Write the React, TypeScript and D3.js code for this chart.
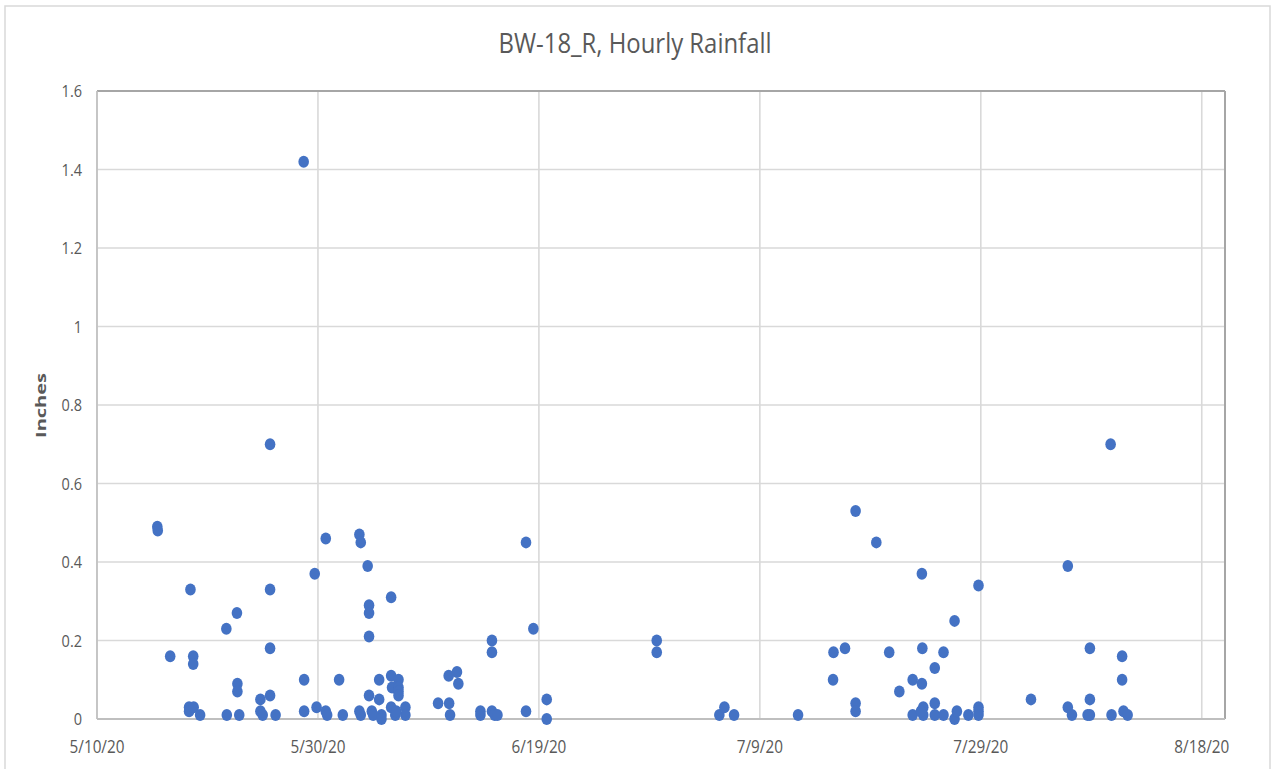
import React from "react";
import * as d3 from "d3";

const chartTitle = "BW-18_R, Hourly Rainfall";
const yAxisTitle = "Inches";

const times: string[] = [
  "5/15/20 11:00", "5/15/20 12:00", "5/16/20 15:00", "5/18/20 08:00", "5/18/20 08:00",
  "5/18/20 11:00", "5/18/20 17:00", "5/18/20 17:00", "5/18/20 18:00", "5/19/20 08:00",
  "5/21/20 18:00", "5/21/20 17:00", "5/22/20 16:00", "5/22/20 17:00", "5/22/20 17:00",
  "5/22/20 21:00", "5/24/20 19:00", "5/24/20 19:00", "5/25/20 00:00", "5/25/20 16:00",
  "5/25/20 16:00", "5/25/20 16:00", "5/25/20 16:00", "5/26/20 04:00", "5/28/20 17:00",
  "5/28/20 18:00", "5/28/20 18:00", "5/29/20 17:00", "5/29/20 21:00", "5/30/20 17:00",
  "5/30/20 17:00", "5/30/20 20:00", "5/31/20 22:00", "6/01/20 06:00", "6/02/20 18:00",
  "6/02/20 21:00", "6/02/20 18:00", "6/02/20 21:00", "6/03/20 12:00", "6/03/20 15:00",
  "6/03/20 15:00", "6/03/20 15:00", "6/03/20 15:00", "6/03/20 21:00", "6/04/20 00:00",
  "6/04/20 13:00", "6/04/20 13:00", "6/04/20 18:00", "6/04/20 18:00", "6/05/20 15:00",
  "6/05/20 15:00", "6/05/20 17:00", "6/05/20 15:00", "6/06/20 00:00", "6/06/20 07:00",
  "6/06/20 07:00", "6/06/20 07:00", "6/06/20 07:00", "6/06/20 22:00", "6/06/20 22:00",
  "6/06/20 02:00", "6/09/20 21:00", "6/10/20 20:00", "6/10/20 21:00", "6/10/20 23:00",
  "6/11/20 14:00", "6/11/20 17:00", "6/13/20 17:00", "6/13/20 17:00", "6/14/20 18:00",
  "6/14/20 18:00", "6/14/20 18:00", "6/15/20 00:00", "6/15/20 06:00", "6/17/20 20:00",
  "6/17/20 20:00", "6/18/20 12:00", "6/19/20 17:00", "6/19/20 17:00", "6/29/20 16:00",
  "6/29/20 16:00", "7/05/20 08:00", "7/05/20 19:00", "7/06/20 16:00", "7/12/20 11:00",
  "7/15/20 16:00", "7/15/20 15:00", "7/16/20 17:00", "7/17/20 16:00", "7/17/20 16:00",
  "7/17/20 16:00", "7/19/20 13:00", "7/20/20 17:00", "7/21/20 15:00", "7/22/20 20:00",
  "7/22/20 20:00", "7/23/20 16:00", "7/23/20 17:00", "7/23/20 16:00", "7/23/20 19:00",
  "7/23/20 19:00", "7/23/20 14:00", "7/24/20 20:00", "7/24/20 20:00", "7/24/20 20:00",
  "7/25/20 15:00", "7/25/20 15:00", "7/26/20 15:00", "7/26/20 15:00", "7/26/20 20:00",
  "7/27/20 21:00", "7/28/20 19:00", "7/28/20 19:00", "7/28/20 19:00", "7/28/20 19:00",
  "8/02/20 13:00", "8/05/20 21:00", "8/05/20 21:00", "8/06/20 06:00", "8/07/20 16:00",
  "8/07/20 21:00", "8/07/20 21:00", "8/07/20 21:00", "8/09/20 18:00", "8/09/20 20:00",
  "8/10/20 19:00", "8/10/20 19:00", "8/10/20 22:00", "8/11/20 07:00",
];

const rainfall: number[] = [
  0.49, 0.48, 0.16, 0.03, 0.02,
  0.33, 0.16, 0.14, 0.03, 0.01,
  0.01, 0.23, 0.27, 0.09, 0.07,
  0.01, 0.05, 0.02, 0.01, 0.06,
  0.18, 0.33, 0.70, 0.01, 1.42,
  0.10, 0.02, 0.37, 0.03, 0.46,
  0.02, 0.01, 0.10, 0.01, 0.47,
  0.45, 0.02, 0.01, 0.39, 0.29,
  0.27, 0.21, 0.06, 0.02, 0.01,
  0.10, 0.05, 0.01, 0.00, 0.31,
  0.11, 0.08, 0.03, 0.01, 0.10,
  0.08, 0.07, 0.06, 0.03, 0.01,
  0.02, 0.04, 0.11, 0.04, 0.01,
  0.12, 0.09, 0.02, 0.01, 0.20,
  0.17, 0.02, 0.01, 0.01, 0.45,
  0.02, 0.23, 0.05, 0.00, 0.20,
  0.17, 0.01, 0.03, 0.01, 0.01,
  0.17, 0.10, 0.18, 0.53, 0.04,
  0.02, 0.45, 0.17, 0.07, 0.10,
  0.01, 0.37, 0.18, 0.09, 0.03,
  0.01, 0.02, 0.13, 0.04, 0.01,
  0.17, 0.01, 0.25, 0.00, 0.02,
  0.01, 0.34, 0.03, 0.02, 0.01,
  0.05, 0.39, 0.03, 0.01, 0.01,
  0.18, 0.05, 0.01, 0.70, 0.01,
  0.16, 0.10, 0.02, 0.01,
];

const xTickLabels = ["5/10/20", "5/30/20", "6/19/20", "7/9/20", "7/29/20", "8/18/20"];
const yTicks = [0, 0.2, 0.4, 0.6, 0.8, 1, 1.2, 1.4, 1.6];
const xDomain = ["5/10/20 00:00", "8/20/20 02:30"];

const W = 1272;
const H = 769;
const margin = { left: 97, right: 1225, top: 91, bottom: 719 };

const parse = d3.timeParse("%m/%d/%y %H:%M");
const parseDay = d3.timeParse("%m/%d/%y");

const font = "'Open Sans', sans-serif";
const textColor = "#595959";

function SText(props: {
  x: number;
  y: number;
  anchor: "start" | "middle" | "end";
  size: number;
  sx: number;
  children: React.ReactNode;
}) {
  return (
    <text
      transform={`translate(${props.x},${props.y}) scale(${props.sx},1)`}
      textAnchor={props.anchor}
      fontFamily={font}
      fontSize={props.size}
      fill={textColor}
    >
      {props.children}
    </text>
  );
}

export default function App() {
  const x = d3
    .scaleTime()
    .domain(xDomain.map((s) => parse(s) as Date))
    .range([margin.left, margin.right]);
  const y = d3.scaleLinear().domain([0, 1.6]).range([margin.bottom, margin.top]);

  const points = times.map((t, i) => ({ t: parse(t) as Date, v: rainfall[i] }));
  const xTicks = xTickLabels.map((s) => ({ label: s, d: parseDay(s) as Date }));

  return (
    <svg
      width={W}
      height={H}
      style={{ position: "absolute", left: 0, top: 0, background: "#fff" }}
    >
      <rect x={0} y={0} width={W} height={H} fill="#fff" />
      <rect x={5} y={6} width={1265} height={H} fill="#fff" stroke="#d9d9d9" strokeWidth={1.5} />
      <text
        x={635}
        y={53}
        textAnchor="middle"
        fontFamily={font}
        fontSize={27}
        fill={textColor}
        textLength={273}
        lengthAdjust="spacingAndGlyphs"
      >
        {chartTitle}
      </text>

      {/* horizontal gridlines */}
      {yTicks.map((v) => (
        <line
          key={"hg" + v}
          x1={margin.left}
          x2={margin.right}
          y1={y(v)}
          y2={y(v)}
          stroke="#d9d9d9"
          strokeWidth={1.6}
        />
      ))}
      {/* vertical gridlines */}
      {xTicks.map((t) => (
        <line
          key={"vg" + t.label}
          x1={x(t.d)}
          x2={x(t.d)}
          y1={margin.top}
          y2={margin.bottom}
          stroke="#d9d9d9"
          strokeWidth={1.6}
        />
      ))}
      {/* plot border */}
      <line x1={margin.left} x2={margin.right} y1={margin.top} y2={margin.top} stroke="#a6a6a6" strokeWidth={2} />
      <line x1={margin.right} x2={margin.right} y1={margin.top} y2={margin.bottom} stroke="#a6a6a6" strokeWidth={2} />
      <line x1={margin.left} x2={margin.left} y1={margin.top} y2={margin.bottom} stroke="#bfbfbf" strokeWidth={1.6} />
      <line x1={margin.left} x2={margin.right} y1={margin.bottom} y2={margin.bottom} stroke="#bfbfbf" strokeWidth={2} />

      {/* y tick labels */}
      {yTicks.map((v) => (
        <SText key={"yl" + v} x={82} y={y(v) + 6} anchor="end" size={16.5} sx={0.88}>
          {d3.format("~g")(v)}
        </SText>
      ))}
      {/* x tick labels */}
      {xTicks.map((t) => (
        <SText key={"xl" + t.label} x={x(t.d)} y={753} anchor="middle" size={18} sx={0.85}>
          {t.label}
        </SText>
      ))}
      <text
        transform={`translate(46, 405.5) rotate(-90)`}
        textAnchor="middle"
        fontFamily={font}
        fontSize={13.5}
        fontWeight="bold"
        fill={textColor}
        textLength={65}
        lengthAdjust="spacingAndGlyphs"
      >
        {yAxisTitle}
      </text>

      {/* points */}
      {points.map((p, i) => (
        <ellipse key={i} cx={x(p.t)} cy={y(p.v)} rx={5.3} ry={6} fill="#4472C4" />
      ))}
    </svg>
  );
}
